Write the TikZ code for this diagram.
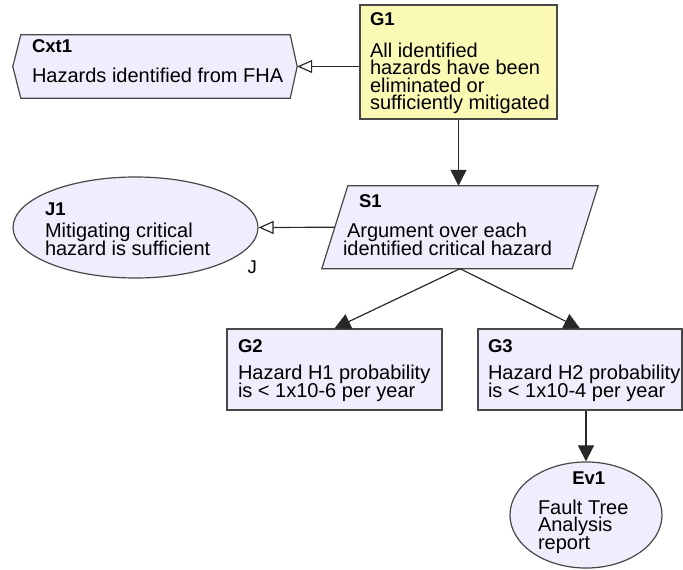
\documentclass[tikz,border=0pt]{standalone}
\usepackage{fontspec}
\setmainfont{Liberation Sans}
\usetikzlibrary{arrows.meta,shapes.geometric,backgrounds}
\definecolor{goalyellow}{RGB}{250,250,180}
\definecolor{nodelilac}{RGB}{238,238,252}
\definecolor{edgegray}{RGB}{72,72,72}
\definecolor{linkgray}{RGB}{40,40,40}

\newcommand{\gsnttl}{\fontsize{18.5pt}{17.5pt}\selectfont\bfseries}
\newcommand{\gsnbdy}{\fontsize{20pt}{17.5pt}\selectfont\lineskiplimit=-20pt\relax}
\newcommand{\gsnlbl}{\fontsize{18.5pt}{18pt}\selectfont}
% box text: width, height, indent, top gap, id, gap, statement
\newcommand{\gsntext}[7]{\parbox[c][#2][t]{#1}{\raggedright\leftskip=#3\relax
  \vspace*{#4}{\gsnttl #5\par}\vspace{#6}{\gsnbdy #7\par}}}

\begin{document}
\begin{tikzpicture}[x=1pt, y=-1pt,
    every node/.style={inner sep=0pt},
    gsnline/.style={draw=edgegray, line width=1.2pt},
    goal/.style={gsnline, fill=nodelilac},
    gsnshape/.style={gsnline, fill=nodelilac},
    support/.style={draw=linkgray, line width=1.2pt, -{Triangle[length=16pt, width=16pt]}},
    incontext/.style={draw=linkgray, line width=1.2pt, -{Triangle[open, length=15pt, width=13pt]}}]
    \useasboundingbox (0,0) rectangle (683,570);

    % goals and context
    \node (g1) [goal, fill=goalyellow] at (458.5,62) {\gsntext{197pt}{114pt}{10pt}{8pt}{G1}{14pt}{All identified\\hazards have been\\eliminated or\\sufficiently mitigated}};
    \node (cxt1) at (155,66.5) {\gsntext{284pt}{63pt}{19pt}{5pt}{Cxt1}{12.5pt}{Hazards identified from FHA}};

    % strategy and justification
    \node (s1) at (460,227.25) {\gsntext{250pt}{82.5pt}{8pt}{9pt}{\hspace*{16pt}S1}{12.5pt}{\hspace*{4pt}Argument over each\\identified critical hazard}};
    \node (j1) [ellipse, goal, minimum width=245pt, minimum height=101pt,
        label={[anchor=base west, xshift=25pt, yshift=-10pt, font=\gsnlbl]south east:J}]
        at (135.5,227.5) {\gsntext{172pt}{70pt}{-4.5pt}{10.5pt}{J1}{4.5pt}{Mitigating critical\\hazard is sufficient}};

    % sub-goals
    \node (g2) [goal] at (334.5,369.5) {\gsntext{215pt}{81pt}{11pt}{11pt}{G2}{9.5pt}{Hazard H1 probability\\is < 1x10-6 per year}};
    \node (g3) [goal] at (580,369.5) {\gsntext{204pt}{81pt}{10pt}{11pt}{G3}{9.5pt}{Hazard H2 probability\\is < 1x10-4 per year}};

    % solution
    \node (ev1) [ellipse, goal, minimum width=152pt, minimum height=106pt] at (586,515) {\gsntext{107pt}{75pt}{5.5pt}{-6pt}{\hspace*{\fill}Ev1\hspace*{\fill}}{12.5pt}{Fault Tree\\Analysis\\report}};

    \begin{scope}[on background layer]
        \fill[white] (0,0) rectangle (683,570);
        \path[gsnshape] (cxt1.west) -- ([xshift=8pt]cxt1.north west) -- ([xshift=-7pt]cxt1.north east)
            -- (cxt1.east) -- ([xshift=-7pt]cxt1.south east) -- ([xshift=8pt]cxt1.south west) -- cycle;
        \path[gsnshape] ([xshift=13pt]s1.north west) -- ([xshift=13pt]s1.north east)
            -- ([xshift=-13pt]s1.south east) -- ([xshift=-13pt]s1.south west) -- cycle;
    \end{scope}

    % links
    \draw[incontext] (g1.west |- cxt1.east) -- (cxt1.east);
    \draw[incontext] (s1.west) -- (j1.east);
    \draw[support] (g1.south) -- (g1.south |- s1.north);
    \draw[support] (s1.south) -- (g2.north);
    \draw[support] (s1.south) -- (g3.north);
    \draw[support] (ev1.north |- g3.south) -- (ev1.north);
\end{tikzpicture}
\end{document}
